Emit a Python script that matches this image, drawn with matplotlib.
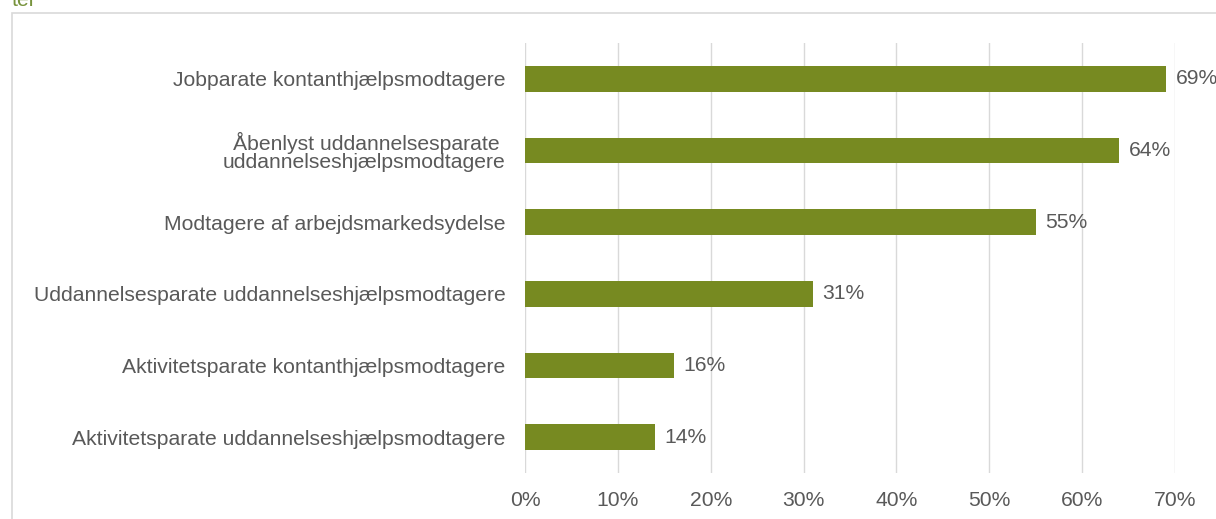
import matplotlib
matplotlib.use("Agg")
import matplotlib.pyplot as plt
from matplotlib.patches import Rectangle

# data
categories = [
    "Jobparate kontanthjælpsmodtagere",
    "Åbenlyst uddannelsesparate \nuddannelseshjælpsmodtagere",
    "Modtagere af arbejdsmarkedsydelse",
    "Uddannelsesparate uddannelseshjælpsmodtagere",
    "Aktivitetsparate kontanthjælpsmodtagere",
    "Aktivitetsparate uddannelseshjælpsmodtagere",
]
values = [69, 64, 55, 31, 16, 14]
xticks = [0, 10, 20, 30, 40, 50, 60, 70]

bar_color = "#778a21"
text_color = "#595959"
grid_color = "#d9d9d9"
fsize = 15.2

plt.rcParams['font.family'] = ['Liberation Sans', 'DejaVu Sans']

W, H = 1216, 519
fig = plt.figure(figsize=(W / 100, H / 100), dpi=100)
ax = fig.add_axes([525 / W, 1 - 473 / H, 650 / W, 430 / H])

ypos = list(range(len(categories)))
ax.barh(ypos, values, height=0.36, color=bar_color, zorder=3)
ax.set_ylim(len(categories) - 0.5, -0.5)
ax.set_xlim(0, 70)

for y, v in zip(ypos, values):
    ax.annotate(f"{v}%", (v, y), xytext=(7, 0), textcoords="offset points",
                va="center", ha="left", fontsize=fsize, color=text_color,
                annotation_clip=False)

ax.set_yticks(ypos)
ax.set_yticklabels(categories, fontsize=fsize, color=text_color, linespacing=0.95)
ax.set_xticks(xticks)
ax.set_xticklabels([f"{t}%" for t in xticks], fontsize=fsize, color=text_color)
ax.tick_params(axis="y", length=0, pad=14)
ax.tick_params(axis="x", length=0, pad=13)
ax.grid(axis="x", color=grid_color, linewidth=1.0, zorder=0)
for s in ax.spines.values():
    s.set_visible(False)

# outer frame (partly cut off)
frame = Rectangle((12 / W, -0.1), 1.2, 1 - 13 / H + 0.1, transform=fig.transFigure,
                  fill=False, edgecolor=grid_color, linewidth=1.2, clip_on=False)
fig.patches.append(frame)

# title, cut at the top
fig.text(12 / W, 1 - 6 / H, "ter", color="#77933c", fontsize=fsize,
         va="baseline", ha="left")

fig.savefig("out.png", dpi=100)
